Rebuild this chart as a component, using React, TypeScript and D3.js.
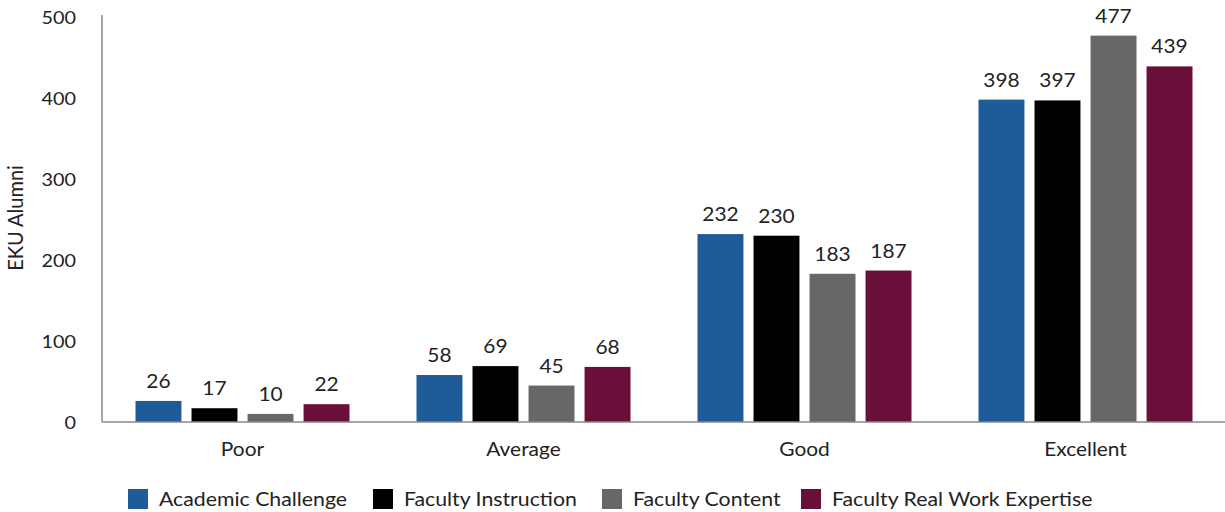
import React from "react";
import * as d3 from "d3";

const categories = ["Poor", "Average", "Good", "Excellent"];
const seriesNames = ["Academic Challenge", "Faculty Instruction", "Faculty Content", "Faculty Real Work Expertise"];
const seriesColors = ["#1f5b98", "#000000", "#676767", "#6a0f39"];
const academicChallenge = [26, 58, 232, 398];
const facultyInstruction = [17, 69, 230, 397];
const facultyContent = [10, 45, 183, 477];
const facultyRealWork = [22, 68, 187, 439];
const yTicks = [0, 100, 200, 300, 400, 500];

const W = 1225, H = 512;
const FONT = "Lato, 'Open Sans', sans-serif";
const SX = 1.1;

function T(props: { x: number; y: number; size: number; anchor?: string; children: React.ReactNode; sx?: number }) {
  const { x, y, size, anchor = "start", children, sx = SX } = props;
  return (
    <text transform={`translate(${x},${y}) scale(${sx},1)`} textAnchor={anchor} fontSize={size} fill="#222">
      {children}
    </text>
  );
}

export default function App() {
  const series = [academicChallenge, facultyInstruction, facultyContent, facultyRealWork];
  const x0 = d3.scaleBand<string>().domain(categories).range([102, 1226]).paddingInner(0).paddingOuter(0);
  const x1 = d3.scaleBand<string>().domain(seriesNames).range([33.5, x0.bandwidth() - 33.5]).paddingInner(0.18).paddingOuter(0);
  const y = d3.scaleLinear().domain([0, 500]).range([422, 17]);
  const legendX = [128, 373, 602, 801];

  return (
    <svg width={W} height={H} style={{ position: "absolute", left: 0, top: 0, background: "#fff" }} fontFamily={FONT}>
      {yTicks.map((t) => (
        <T key={t} x={76} y={y(t) + 6.5} size={18} anchor="end">{t}</T>
      ))}
      <text transform={`translate(23,218) rotate(-90) scale(1,1.1)`} textAnchor="middle" fontSize={20} fill="#222">EKU Alumni</text>
      {categories.map((c, ci) => (
        <g key={c} transform={`translate(${x0(c)},0)`}>
          {seriesNames.map((s, si) => {
            const v = series[si][ci];
            const bx = x1(s)!;
            return (
              <g key={s}>
                <rect x={bx} y={y(v)} width={x1.bandwidth()} height={422 - y(v)} fill={seriesColors[si]} />
                <T x={bx + x1.bandwidth() / 2} y={y(v) - 13} size={19} anchor="middle">{v}</T>
              </g>
            );
          })}
          <T x={x0.bandwidth() / 2} y={456} size={19} anchor="middle">{c}</T>
        </g>
      ))}
      <line x1={102} x2={102} y1={15} y2={422} stroke="#888" strokeWidth={1.5} />
      <line x1={102} x2={1225} y1={422} y2={422} stroke="#888" strokeWidth={1.5} />
      {seriesNames.map((s, i) => (
        <g key={s}>
          <rect x={legendX[i]} y={489} width={20} height={20} fill={seriesColors[i]} />
          <T x={legendX[i] + 31} y={506} size={19} sx={1.12}>{s}</T>
        </g>
      ))}
    </svg>
  );
}
